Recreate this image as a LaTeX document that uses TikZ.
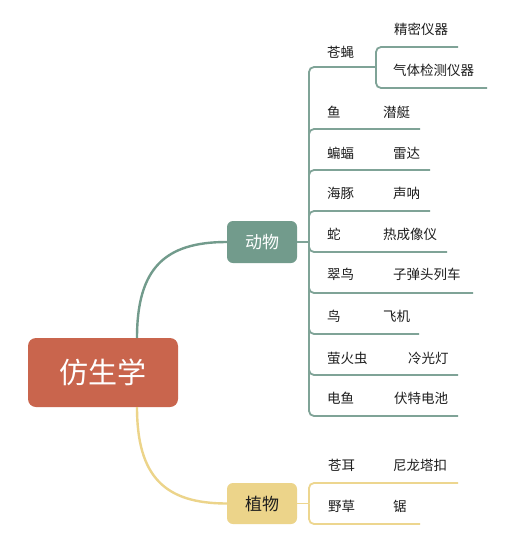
\documentclass[tikz,border=0pt]{standalone}
\usepackage{fontspec}
\setmainfont{Noto Sans CJK SC}
\definecolor{rootc}{HTML}{C9654D}
\definecolor{greenc}{HTML}{729B8C}
\definecolor{greenl}{HTML}{7FA397}
\definecolor{yellc}{HTML}{ECD48A}
\definecolor{yelll}{HTML}{EDD68F}
\definecolor{txt}{HTML}{1E1E1E}
\begin{document}
\begin{tikzpicture}[x=1pt,y=-1pt,
  rootbox/.style={fill=rootc,rounded corners=8pt,minimum width=150pt,minimum height=69pt,inner sep=0pt,text=white,font=\fontsize{29}{29}\selectfont},
  catbox/.style={rounded corners=6pt,minimum width=70pt,minimum height=42pt,inner sep=0pt,font=\fontsize{17}{17}\selectfont},
  leaf/.style={anchor=west,inner sep=0pt,text=txt,font=\fontsize{13.5}{13.5}\selectfont},
  gline/.style={draw=greenl,line width=1.8pt,rounded corners=5pt},
  yline/.style={draw=yelll,line width=1.8pt,rounded corners=5pt},
]
\useasboundingbox (0,0) rectangle (518,554);
\fill[white] (0,0) rectangle (518,554);

% main nodes
\node[rootbox] (root) at (103,372.5) {仿生学};
\node[catbox,fill=greenc,text=white] (animal) at (262,242) {动物};
\node[catbox,fill=yellc,text=txt,minimum height=41pt] (plant) at (262,503.5) {植物};

% main curves
\coordinate (rtop) at (137,338);
\coordinate (rbot) at (137,407);
\draw[greenc,line width=2.4pt] (rtop) .. controls (137,268) and (165,242) .. (animal.west);
\draw[yellc,line width=2.4pt] (rbot) .. controls (137,477) and (165,503.5) .. (plant.west);

% animal junction
\coordinate (aj) at (309,242);
\draw[gline] (animal.east) -- (aj);

% fly with sub-branch
\coordinate (flyj) at (376,67);
\draw[gline] (aj) |- (flyj);
\node[leaf] (fly) at (327,52) {苍蝇};
\coordinate (fly1e) at (458,47);
\coordinate (fly2e) at (487,88);
\draw[gline] (flyj) |- (fly1e);
\draw[gline] (flyj) |- (fly2e);
\node[leaf] (fly1) at (394,29) {精密仪器};
\node[leaf] (fly2) at (393,70) {气体检测仪器};

% other animals
\foreach \nm/\a/\b/\bx/\ty/\uy/\ex in {
  fish/鱼/潜艇/383/112/129/420,
  bat/蝙蝠/雷达/393/153/170/430,
  dol/海豚/声呐/393/193/211/430,
  snake/蛇/热成像仪/383/234/252/447,
  king/翠鸟/子弹头列车/393/274/293/473,
  bird/鸟/飞机/383/316/334/419,
  ffly/萤火虫/冷光灯/408/358/375/458,
  eel/电鱼/伏特电池/394/398/416/458}{
  \coordinate (\nm e) at (\ex,\uy);
  \draw[gline] (aj) |- (\nm e);
  \node[leaf] (\nm) at (327,\ty) {\a};
  \node[leaf] (\nm b) at (\bx,\ty) {\b};
}

% plants
\coordinate (pj) at (309,503.5);
\draw[yline] (plant.east) -- (pj);
\coordinate (burre) at (458,483);
\coordinate (grasse) at (420,524);
\draw[yline] (pj) |- (burre);
\draw[yline] (pj) |- (grasse);
\node[leaf] (burr) at (328,465) {苍耳};
\node[leaf] (burrb) at (393,465) {尼龙塔扣};
\node[leaf] (grass) at (328,506) {野草};
\node[leaf] (grassb) at (393,506) {锯};
\end{tikzpicture}
\end{document}
